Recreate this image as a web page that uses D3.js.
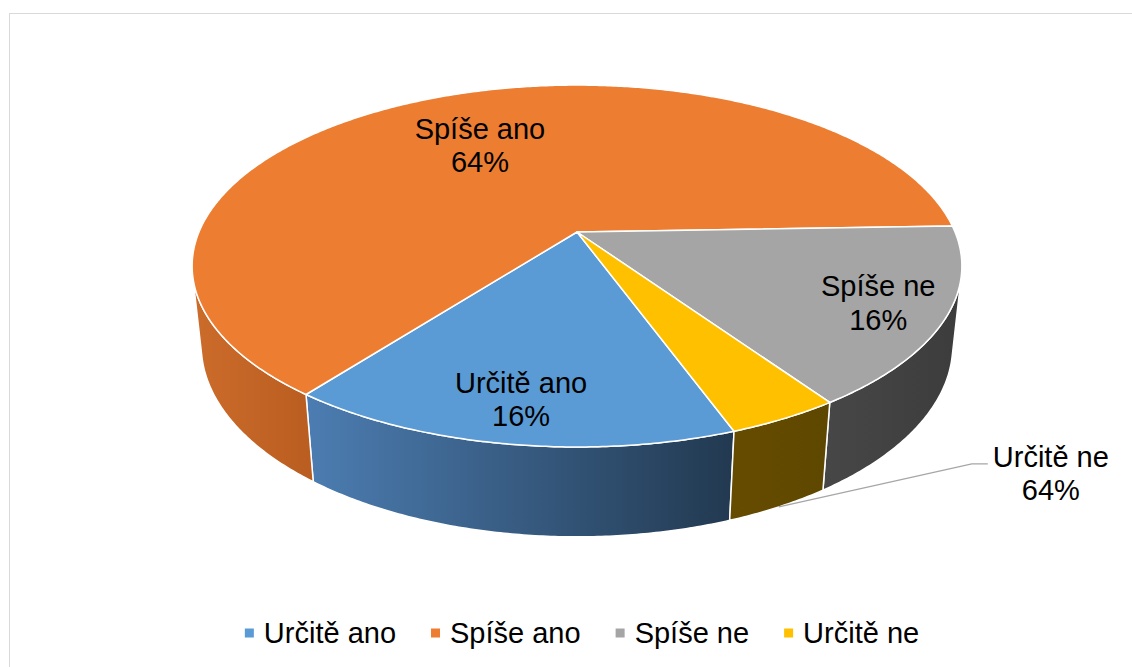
<!DOCTYPE html>
<html>
<head>
<meta charset="utf-8">
<script src="https://cdnjs.cloudflare.com/ajax/libs/d3/7.8.5/d3.min.js"></script>
<style>
body{margin:0;background:#fff;overflow:hidden;}
svg text{font-family:"Liberation Sans",Arial,sans-serif;fill:#000;}
</style>
</head>
<body>
<div id="chart"></div>
<script>
// Data
var categories = ["Určitě ano", "Spíše ano", "Spíše ne", "Určitě ne"];
var values = [16, 64, 16, 4];
var labelPercents = ["16%", "64%", "16%", "64%"];   // as printed on the chart

// Colours: top face, wall gradient (left -> right)
var topColors = ["#5b9bd5", "#ed7d31", "#a5a5a5", "#ffc000"];
var wallColors = [["#4c7db2", "#223950"], ["#cc6c2b", "#b95d20"], ["#474747", "#3c3c3c"], ["#664c00", "#5e4700"]];
var labelRadius = [0.82, 0.62, 0.83, null];   // null = outside label with leader

var W = 1132, H = 667;
var svg = d3.select("#chart").append("svg").attr("width", W).attr("height", H);

// chart frame
svg.append("rect").attr("x", 9.5).attr("y", 13.5).attr("width", 1200).attr("height", 700)
	.attr("fill", "none").attr("stroke", "#d9d9d9").attr("stroke-width", 1);

// 3D projection of the pie (perspective, seen from above)
var cx = 577, cy = 232;          // projected centre of the top face
var F = 378;                     // focal length * radius
var tilt = 27.5 * Math.PI / 180;
var c = 0.188;                   // radius*cos(tilt)/distance
var a = c / Math.cos(tilt);      // radius/distance
var thick = 0.239;               // thickness / radius

function project(angle, rad, level) {
	var X = rad * Math.sin(angle), Z = -rad * Math.cos(angle), Y = -thick * level;
	var depth = 1 - a * Y * Math.sin(tilt) - c * Z;
	return [cx + F * X / depth, cy + F * (Z * Math.sin(tilt) - Y * Math.cos(tilt)) / depth];
}

function arcPoints(a0, a1, level) {
	var pts = [], n = Math.max(2, Math.ceil(Math.abs(a1 - a0) / (Math.PI / 360)));
	for (var i = 0; i <= n; i++) pts.push(project(a0 + (a1 - a0) * i / n, 1, level));
	return pts;
}

var start = 160 * Math.PI / 180;
var pie = d3.pie().sort(null).value(function(d){ return d; })
	.startAngle(start).endAngle(start + 2 * Math.PI);
var arcs = pie(values);

// visible part of the outer wall (front, facing the camera)
var vis0 = Math.acos(-a / Math.cos(tilt)), vis1 = 2 * Math.PI - vis0;
var line = d3.line();
var defs = svg.append("defs");

var walls = svg.append("g"), tops = svg.append("g");
arcs.forEach(function(d, i) {
	[0, 2 * Math.PI].forEach(function(k) {
		var s = Math.max(d.startAngle, vis0 + k), e = Math.min(d.endAngle, vis1 + k);
		if (e <= s) return;
		var up = arcPoints(s, e, 0), down = arcPoints(e, s, 1);
		var pts = up.concat(down);
		var xs = pts.map(function(p){ return p[0]; });
		var gid = "wall" + i + "_" + k;
		var g = defs.append("linearGradient").attr("id", gid).attr("gradientUnits", "userSpaceOnUse")
			.attr("x1", d3.min(xs)).attr("x2", d3.max(xs)).attr("y1", 0).attr("y2", 0);
		g.append("stop").attr("offset", 0).attr("stop-color", wallColors[i][0]);
		g.append("stop").attr("offset", 1).attr("stop-color", wallColors[i][1]);
		walls.append("path").attr("d", line(pts) + "Z")
			.attr("fill", "url(#" + gid + ")")
			.attr("stroke", "#fff").attr("stroke-width", 1.5).attr("stroke-linejoin", "round");
	});
	var topPts = [project(0, 0, 0)].concat(arcPoints(d.startAngle, d.endAngle, 0));
	tops.append("path").attr("d", line(topPts) + "Z")
		.attr("fill", topColors[i])
		.attr("stroke", "#fff").attr("stroke-width", 1.5).attr("stroke-linejoin", "round");
});

// Data labels
var fs = 29, lh = 33.5;
var labels = svg.append("g").attr("font-size", fs).attr("text-anchor", "middle");
arcs.forEach(function(d, i) {
	var mid = (d.startAngle + d.endAngle) / 2, p;
	if (labelRadius[i] != null) {
		p = project(mid, labelRadius[i], 0);
	} else {
		var anchor = project(mid, 1, 1);
		p = [anchor[0] + 272, anchor[1] - 34];
	}
	var t = labels.append("text").attr("x", p[0]).attr("y", p[1] - 6);
	t.append("tspan").attr("x", p[0]).text(categories[i]);
	t.append("tspan").attr("x", p[0]).attr("dy", lh).text(labelPercents[i]);
	if (labelRadius[i] == null) {
		var w = t.select("tspan").node().getComputedTextLength();
		var left = p[0] - w / 2, ly = p[1] - 9;
		svg.append("path")
			.attr("d", line([anchor, [left - 21, ly], [left - 5, ly]]))
			.attr("fill", "none").attr("stroke", "#a6a6a6").attr("stroke-width", 1.3);
	}
});

// Legend
var legend = svg.append("g").attr("font-size", fs);
var items = [], x = 0;
categories.forEach(function(name, i) {
	var g = legend.append("g");
	g.append("rect").attr("x", 0).attr("y", -4.5).attr("width", 9).attr("height", 9).attr("fill", topColors[i]);
	var t = g.append("text").attr("x", 19).attr("y", 10).text(name);
	var w = 19 + t.node().getComputedTextLength();
	g.attr("transform", "translate(" + x + ",0)");
	x += w + 35;
});
var total = x - 35;
legend.attr("transform", "translate(" + (582 - total / 2) + ",633)");
</script>
</body>
</html>
